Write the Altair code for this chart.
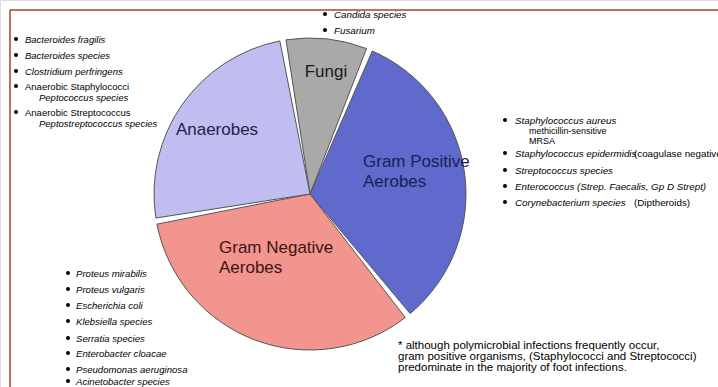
import altair as alt
import pandas as pd

# ---- data ----
groups = ["Fungi", "Gram Positive Aerobes", "Gram Negative Aerobes", "Anaerobes"]
shares = [9, 33, 33, 25]
order_idx = [0, 1, 2, 3]
colors = ["#a9a9a9", "#5f6acc", "#f2958f", "#c0bdf0"]

anaerobe_items = ["Bacteroides fragilis", "Bacteroides species", "Clostridium perfringens",
                  "Anaerobic Staphylococci", "Peptococcus species",
                  "Anaerobic Streptococcus", "Peptostreptococcus species"]
fungi_items = ["Candida species", "Fusarium"]
gp_items = ["Staphylococcus aureus", "methicillin-sensitive", "MRSA",
            "Staphylococcus epidermidis", "(coagulase negative)",
            "Streptococcus species", "Enterococcus (Strep. Faecalis, Gp D Strept)",
            "Corynebacterium species", "(Diptheroids)"]
gn_items = ["Proteus mirabilis", "Proteus vulgaris", "Escherichia coli", "Klebsiella species",
            "Serratia species", "Enterobacter cloacae", "Pseudomonas aeruginosa",
            "Acinetobacter species"]
footnote = ["* although polymicrobial infections frequently occur,",
            "gram positive organisms, (Staphylococci and Streptococci)",
            "predominate in the majority of foot infections."]
slice_labels = ["Fungi", "Gram Positive", "Aerobes", "Gram Negative", "Aerobes", "Anaerobes"]

df = pd.DataFrame({"group": groups, "share": shares, "idx": order_idx})

START = 6.1087  # -10 degrees
TWO_PI = 6.283185

pie = alt.Chart(df).mark_arc(
    outerRadius=156, stroke="#555555", strokeWidth=1, padAngle=0.04
).encode(
    theta=alt.Theta("share:Q", stack=True, scale=alt.Scale(range=[START, START + TWO_PI])),
    order=alt.Order("idx:Q"),
    color=alt.Color("group:N", scale=alt.Scale(domain=groups, range=colors), legend=None),
    x=alt.value(310),
    y=alt.value(194),
)

FONT = "Liberation Sans"
base = alt.Chart(pd.DataFrame({"a": [0]}))


def txt(t, x, y, size=9, style="italic", weight="normal", color="#000000", align="left"):
    return base.mark_text(
        font=FONT, fontSize=size, fontStyle=style, fontWeight=weight, color=color,
        align=align, baseline="middle"
    ).encode(x=alt.value(x), y=alt.value(y), text=alt.value(t))


def bullet(x, y):
    return base.mark_circle(size=16, color="#000000", opacity=1).encode(
        x=alt.value(x), y=alt.value(y))


layers = [pie]

# frame lines
layers.append(base.mark_rule(color="#a5442a", strokeWidth=1.5).encode(
    x=alt.value(10), x2=alt.value(718), y=alt.value(10)))
layers.append(base.mark_rule(color="#a5442a", strokeWidth=1.5).encode(
    x=alt.value(10), y=alt.value(10), y2=alt.value(387)))

# Anaerobes list
ay = [40, 56, 72, 87, 98, 113, 124]
ax = [25, 25, 25, 25, 39, 25, 39]
astyle = ["italic", "italic", "italic", "normal", "italic", "normal", "italic"]
abul = [True, True, True, True, False, True, False]
for t, x, y, s, b in zip(anaerobe_items, ax, ay, astyle, abul):
    layers.append(txt(t, x, y, size=9.5, style=s))
    if b:
        layers.append(bullet(16, y - 1))

# Fungi list
for t, y in zip(fungi_items, [15, 31]):
    layers.append(txt(t, 334, y, size=9.8))
    layers.append(bullet(325, y - 1))

# Gram positive list
gx = [515, 529, 529, 515, 634, 515, 515, 515, 634]
gy = [121, 131, 141, 154, 154, 171, 187, 203, 203]
gsz = [9.8, 9, 9, 9.8, 9.8, 9.8, 9.8, 9.8, 9.8]
gs = ["italic", "normal", "normal", "italic", "normal", "italic", "italic", "italic", "normal"]
gb = [True, False, False, True, False, True, True, True, False]
for t, x, y, sz, s, b in zip(gp_items, gx, gy, gsz, gs, gb):
    layers.append(txt(t, x, y, size=sz, style=s))
    if b:
        layers.append(bullet(505, y - 1))

# Gram negative list
ny = [274, 290, 306, 322, 339, 354, 370, 382]
for t, y in zip(gn_items, ny):
    layers.append(txt(t, 76, y, size=9.6))
    layers.append(bullet(68, y - 1))

# footnote
for t, y in zip(footnote, [346, 357, 368]):
    layers.append(txt(t, 398, y, size=11.5, style="normal"))

# slice labels
lab_x = [326, 363, 363, 219, 219, 217]
lab_y = [72, 162, 182, 248, 268, 130]
lab_align = ["center", "left", "left", "left", "left", "center"]
lab_col = ["#1a1a1a", "#1b1f55", "#1b1f55", "#3d1414", "#3d1414", "#23234a"]
for t, x, y, a, c in zip(slice_labels, lab_x, lab_y, lab_align, lab_col):
    layers.append(txt(t, x, y, size=17, style="normal", color=c, align=a))

chart = alt.layer(*layers).properties(
    width=718, height=387, autosize=alt.AutoSizeParams(type="none"), padding=0
).configure_view(stroke=None).configure(background="#ffffff")

chart.save("out.html", embed_options={"renderer": "svg", "actions": False})
